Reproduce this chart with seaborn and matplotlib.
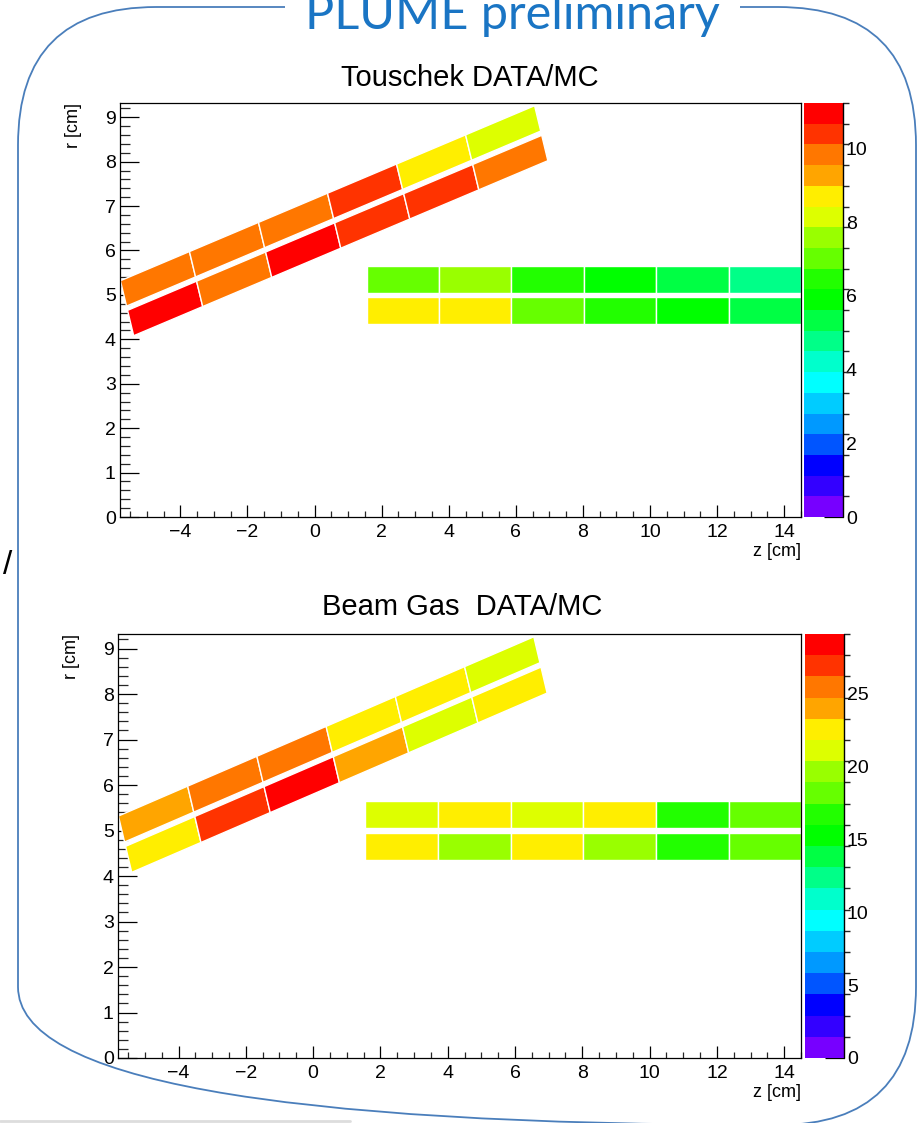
import numpy as np
import matplotlib
matplotlib.use("Agg")
import matplotlib.pyplot as plt
import seaborn as sns
from matplotlib.collections import PolyCollection
from matplotlib.colors import ListedColormap, BoundaryNorm
from matplotlib.patches import FancyBboxPatch, Rectangle
from matplotlib.ticker import MultipleLocator, FixedLocator

# ---------------- data (DATA/MC ratio per module) ----------------
touschek_tilted_outer = [9.8, 9.8, 9.8, 10.4, 8.7, 8.1]
touschek_tilted_inner = [10.95, 9.8, 10.95, 10.4, 10.4, 9.8]
touschek_flat_outer = [7.0, 7.6, 6.5, 5.9, 5.3, 4.8]
touschek_flat_inner = [8.7, 8.7, 7.0, 6.5, 5.9, 5.3]

beamgas_tilted_outer = [24.0, 25.5, 25.5, 22.6, 22.6, 21.1]
beamgas_tilted_inner = [22.6, 26.9, 28.4, 24.0, 21.1, 22.6]
beamgas_flat_outer = [21.1, 22.6, 21.1, 22.6, 16.7, 18.2]
beamgas_flat_inner = [22.6, 19.6, 22.6, 19.6, 16.7, 18.2]

touschek_zmax = 11.23
beamgas_zmax = 29.1
touschek_cbar_ticks = [0, 2, 4, 6, 8, 10]
beamgas_cbar_ticks = [0, 5, 10, 15, 20, 25]
z_ticks = [-4, -2, 0, 2, 4, 6, 8, 10, 12, 14]
r_ticks = [0, 1, 2, 3, 4, 5, 6, 7, 8, 9]
panel_titles = ["Touschek DATA/MC", "Beam Gas  DATA/MC"]
main_title = "PLUME preliminary"

# ---------------- styling / geometry ----------------
sns.set_theme(style="white")
plt.rcParams['font.family'] = ['Liberation Sans', 'DejaVu Sans']

palette = sns.color_palette([
    '#7700ff', '#3300ff', '#0000ff', '#0055ff', '#0099ff', '#00ccff', '#00ffff',
    '#00ffcc', '#00ff88', '#00ff44', '#00ff00', '#22ff00', '#66ff00', '#99ff00',
    '#ddff00', '#ffee00', '#ffa500', '#ff7700', '#ff3300', '#ff0000'])
cmap = ListedColormap(palette)

MOD_LEN = 2.16
MOD_THICK = 0.6
ROW_GAP = 0.1
TILT_START = (-5.59, 4.70)
TILT_ANGLE = 17.7
FLAT_START = (1.55, 5.0)
XLIM = (-5.8, 14.5)
YLIM = (0, 9.32)


def ladder(start, angle_deg, outer, inner):
    a = np.deg2rad(angle_deg)
    u = np.array([np.cos(a), np.sin(a)])
    n = np.array([-np.sin(a), np.cos(a)])
    p0 = np.array(start)
    verts, vals = [], []
    for side, row in ((1, outer), (-1, inner)):
        o0 = side * ROW_GAP / 2
        o1 = side * (ROW_GAP / 2 + MOD_THICK)
        for k, v in enumerate(row):
            s0, s1 = k * MOD_LEN, (k + 1) * MOD_LEN
            verts.append([p0 + s0 * u + o0 * n, p0 + s1 * u + o0 * n,
                          p0 + s1 * u + o1 * n, p0 + s0 * u + o1 * n])
            vals.append(v)
    return verts, vals


W, H = 924, 1123
fig = plt.figure(figsize=(W / 100, H / 100), dpi=100)
fig.patch.set_facecolor('white')


def px_rect(x0, y0, x1, y1):
    return [x0 / W, 1 - y1 / H, (x1 - x0) / W, (y1 - y0) / H]


# background decoration (rounded frame, title)
bg = fig.add_axes([0, 0, 1, 1], zorder=-1)
bg.set_xlim(0, W)
bg.set_ylim(H, 0)
bg.axis('off')
bg.add_patch(FancyBboxPatch((18, 7), 898, 1118,
                            boxstyle="round,pad=0,rounding_size=138",
                            fill=False, ec='#4a7ebb', lw=1.3))
bg.add_patch(Rectangle((285, 0), 455, 22, fc='white', ec='none', zorder=3))
bg.text(512, 29, main_title, ha='center', va='baseline', color='#1a75c4',
        fontsize=35, family=['Lato', 'DejaVu Sans'], fontweight='normal', zorder=4)
bg.text(8, 565, '/', ha='center', va='center', fontsize=24, color='black')
bg.plot([0, 350], [1121, 1121], color='#dddddd', lw=2)

panels = [
    dict(title=panel_titles[0], zmax=touschek_zmax, cticks=touschek_cbar_ticks,
         tilt=(touschek_tilted_outer, touschek_tilted_inner),
         flat=(touschek_flat_outer, touschek_flat_inner),
         ax=(120, 103, 801, 517), cax=(804, 103, 843, 517), ty=78, tx=470),
    dict(title=panel_titles[1], zmax=beamgas_zmax, cticks=beamgas_cbar_ticks,
         tilt=(beamgas_tilted_outer, beamgas_tilted_inner),
         flat=(beamgas_flat_outer, beamgas_flat_inner),
         ax=(118, 634, 801, 1058), cax=(805, 634, 844, 1058), ty=607, tx=462),
]

for p in panels:
    ax = fig.add_axes(px_rect(*p['ax']))
    cax = fig.add_axes(px_rect(*p['cax']))
    bounds = np.linspace(0, p['zmax'], 21)
    norm = BoundaryNorm(bounds, cmap.N)

    v1, c1 = ladder(TILT_START, TILT_ANGLE, *p['tilt'])
    v2, c2 = ladder(FLAT_START, 0.0, *p['flat'])
    coll = PolyCollection(v1 + v2, array=np.array(c1 + c2), cmap=cmap, norm=norm,
                          edgecolors='white', linewidths=1.0)
    ax.add_collection(coll)

    ax.set_xlim(*XLIM)
    ax.set_ylim(*YLIM)
    ax.set_facecolor('white')
    for s in ax.spines.values():
        s.set_visible(True)
        s.set_color('black')
        s.set_linewidth(0.9)
    ax.xaxis.set_major_locator(FixedLocator(z_ticks))
    ax.xaxis.set_minor_locator(MultipleLocator(0.5))
    ax.yaxis.set_major_locator(FixedLocator(r_ticks))
    ax.yaxis.set_minor_locator(MultipleLocator(0.2))
    ax.tick_params(axis='x', which='major', direction='in', length=9, width=0.9,
                   bottom=True, top=False, labelsize=14, pad=5, colors='black')
    ax.tick_params(axis='x', which='minor', direction='in', length=4.5, width=0.9,
                   bottom=True, top=False)
    ax.tick_params(axis='y', which='major', direction='in', length=14, width=0.9,
                   left=True, right=False, labelsize=14, pad=3, colors='black')
    ax.tick_params(axis='y', which='minor', direction='in', length=7, width=0.9,
                   left=True, right=False)
    ax.set_xlabel('z [cm]', loc='right', fontsize=13, color='black')
    ax.xaxis.set_label_coords(1.0, -0.062)
    ax.set_ylabel('r [cm]', loc='top', fontsize=13, color='black')
    ax.yaxis.set_label_coords(-0.056, 1.0)

    cb = fig.colorbar(coll, cax=cax, ticks=p['cticks'])
    cb.outline.set_visible(False)
    cax.plot([1, 1], [0, 1], transform=cax.transAxes, color='black', lw=1.0,
             clip_on=False)
    cax.tick_params(axis='y', direction='in', length=14, width=0.9, right=True,
                    left=False, labelsize=14, pad=2, colors='black')

    fig.text(p['tx'] / W, 1 - p['ty'] / H, p['title'], ha='center', va='center',
             fontsize=21, color='black')

fig.savefig('out.png', dpi=100, facecolor='white')
